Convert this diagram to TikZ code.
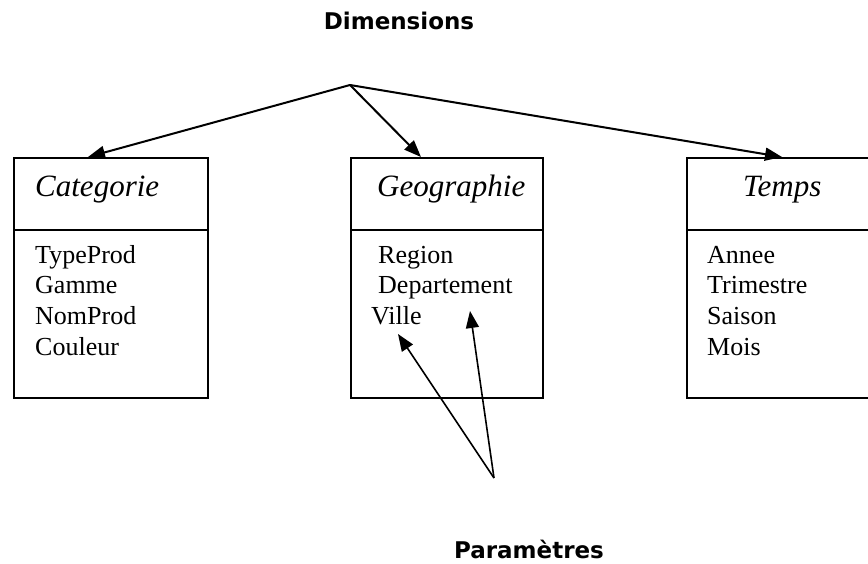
\documentclass[tikz,border=0pt]{standalone}
\usepackage{fontspec}
\setmainfont{Liberation Serif}
\newfontfamily\labelfont{DejaVu Sans}
\usetikzlibrary{arrows.meta}
\begin{document}
\begin{tikzpicture}[x=1pt,y=-1pt,
  frame/.style={draw,line width=2pt,rectangle,minimum height=240pt,inner sep=0pt,anchor=north west},
  divider/.style={line width=2pt},
  link/.style={line width=2pt,-{Triangle[length=17pt,width=13pt]}},
  title/.style={font=\labelfont\bfseries\fontsize{23}{27}\selectfont,anchor=base,inner sep=0pt},
  head/.style={font=\itshape\fontsize{31}{36}\selectfont,anchor=base west,inner sep=0pt},
  item/.style={font=\fontsize{26}{30}\selectfont,anchor=base west,inner sep=0pt}]
\useasboundingbox (0,0) rectangle (868,564);

% titles
\node[title] (dim) at (399,30) {Dimensions};
\node[title] (par) at (529,558) {Paramètres};

% dimension boxes with a header compartment
\node[frame,minimum width=194pt] (cat) at (13,157) {};
\node[frame,minimum width=192pt] (geo) at (350,157) {};
\node[frame,minimum width=190pt] (tps) at (686,157) {};
\draw[divider] (cat.west |- 0,230) -- (cat.east |- 0,230);
\draw[divider] (geo.west |- 0,230) -- (geo.east |- 0,230);
\draw[divider] (tps.west |- 0,230) -- (tps.east |- 0,230);

% headers
\node[head] (catname) at (35,197) {Categorie};
\node[head] (geoname) at (377,197) {Geographie};
\node[head] (tpsname) at (743,197) {Temps};

% attributes
\node[item] (c1) at (35,264) {TypeProd};
\node[item] (c2) at (35,294) {Gamme};
\node[item] (c3) at (35,324) {NomProd};
\node[item] (c4) at (35,355) {Couleur};

\node[item] (g1) at (378,264) {Region};
\node[item] (g2) at (378,294) {Departement};
\node[item] (g3) at (371,324) {Ville};

\node[item] (t1) at (707,264) {Annee};
\node[item] (t2) at (707,294) {Trimestre};
\node[item] (t3) at (707,324) {Saison};
\node[item] (t4) at (707,355) {Mois};

% connector ends
\coordinate (top) at (350,85);
\coordinate (catin) at (88,157);
\coordinate (geoin) at (421,157);
\coordinate (tpsin) at (782,157);
\coordinate (bot) at (494,478);
\coordinate (villein) at (398,334);
\coordinate (depin) at (470,311);

\draw[link] (top) -- (catin);
\draw[link] (top) -- (geoin);
\draw[link] (top) -- (tpsin);
\draw[link,line width=1.6pt] (bot) -- (villein);
\draw[link,line width=1.6pt] (bot) -- (depin);
\end{tikzpicture}
\end{document}
